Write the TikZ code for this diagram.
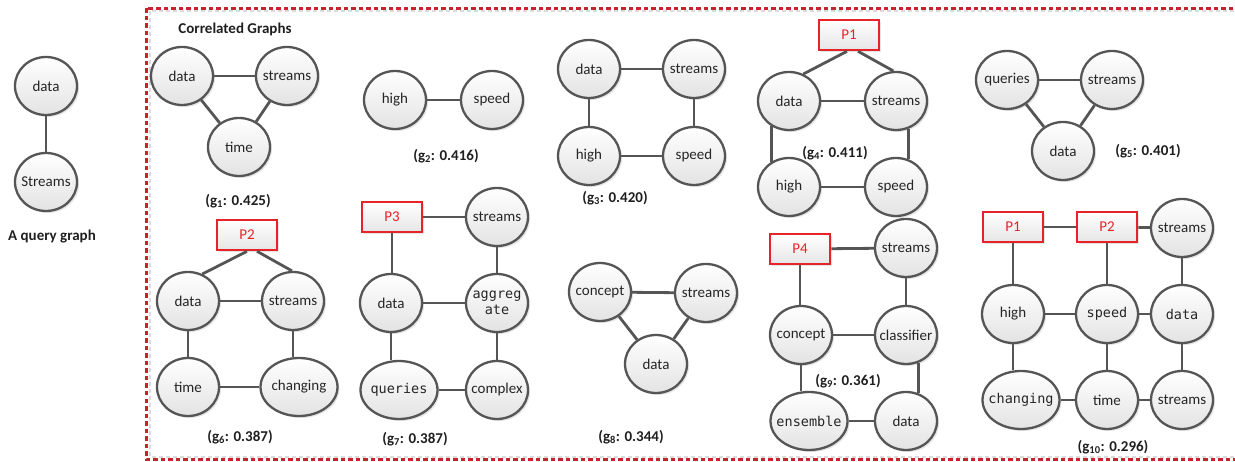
\documentclass[tikz,border=0pt]{standalone}
\usepackage{fontspec}
\setmainfont{Carlito}
\newfontfamily\monof{DejaVu Sans Mono}
\usetikzlibrary{shapes.geometric,shadows}
\definecolor{edgegray}{HTML}{555555}
\definecolor{pred}{HTML}{E8222B}
\definecolor{dred}{HTML}{C8232C}
\begin{document}
\begin{tikzpicture}[x=1pt,y=-1pt,
  cn/.style={ellipse, draw=edgegray, line width=2.3pt, top color=white, bottom color=black!11,
    minimum width=62pt, minimum height=58pt, inner xsep=-14pt, inner ysep=0pt,
    text=black!85, font=\fontsize{15}{16}\selectfont,
    drop shadow={shadow xshift=2pt,shadow yshift=-2pt,fill=black,opacity=0.10}},
  wide/.style={minimum width=77pt},
  mn/.style={font=\monof\fontsize{13.5}{16}\selectfont, align=center},
  pbox/.style={rectangle, draw=pred, line width=2.6pt, top color=white, bottom color=black!10,
    minimum width=60pt, minimum height=30pt, inner sep=0pt, text=pred,
    font=\fontsize{15}{16}\selectfont,
    drop shadow={shadow xshift=2pt,shadow yshift=-2pt,fill=black,opacity=0.10}},
  ed/.style={draw=edgegray, line width=2.8pt},
  lbl/.style={font=\bfseries\fontsize{15}{17}\selectfont, text=black!88, inner sep=0pt}]
\useasboundingbox (0,0) rectangle (1235,462);
% frame
\draw[black!14, line width=2pt, dash pattern=on 4pt off 3pt] (149.5,11.5) rectangle (1240,457);
\draw[dred, line width=2.2pt, dash pattern=on 4.5pt off 3pt] (146.5,8.5) rectangle (1240,459.5);
% query graph
\node[cn] (q1) at (46,86) {data};
\node[cn] (q2) at (46,182) {Streams};
\draw[ed] (q1) -- (q2);
\node[lbl] (ql) at (52,237) {A query graph};
\node[lbl] (cg) at (235,29) {Correlated Graphs};
% g1
\node[cn] (a1) at (182,76) {data};
\node[cn] (a2) at (287,76) {streams};
\node[cn] (a3) at (239,147) {time};
\draw[ed] (a1) -- (a2);
\draw[ed] (a1) -- (a3);
\draw[ed] (a2) -- (a3);
\node[lbl] (la) at (238,201) {(g\textsubscript{1}: 0.425)};
% g2
\node[cn] (b1) at (395,100) {high};
\node[cn] (b2) at (492,100) {speed};
\draw[ed] (b1) -- (b2);
\node[lbl] (lb) at (446,156) {(g\textsubscript{2}: 0.416)};
% g3
\node[cn] (c1) at (589,69) {data};
\node[cn] (c2) at (694,69) {streams};
\node[cn] (c3) at (589,156) {high};
\node[cn] (c4) at (694,156) {speed};
\draw[ed] (c1) -- (c2);
\draw[ed] (c1) -- (c3);
\draw[ed] (c2) -- (c4);
\draw[ed] (c3) -- (c4);
\node[lbl] (lc) at (615,198) {(g\textsubscript{3}: 0.420)};
% g4
\node[pbox] (d0) at (849,35) {P1};
\node[cn] (d1) at (789,101) {data};
\node[cn] (d2) at (896,101) {streams};
\node[cn] (d3) at (789,187) {high};
\node[cn] (d4) at (896,187) {speed};
\draw[ed] ([xshift=-2pt]d0.south) -- (d1.62);
\draw[ed] ([xshift=9pt]d0.south) -- (d2.95);
\draw[ed] (d1) -- (d2);
\draw[ed] (d1.235) -- (d3.125);
\draw[ed] (d2.295) -- (d4.65);
\draw[ed] (d3) -- (d4);
\node[lbl] (ld) at (835,153) {(g\textsubscript{4}: 0.411)};
% g5
\node[cn] (k1) at (1007,80) {queries};
\node[cn] (k2) at (1112,80) {streams};
\node[cn] (k3) at (1063,151) {data};
\draw[ed] (k1) -- (k2);
\draw[ed] (k1) -- (k3);
\draw[ed] (k2) -- (k3);
\node[lbl] (lk) at (1148,151) {(g\textsubscript{5}: 0.401)};
% g6
\node[pbox] (e0) at (247,235) {P2};
\node[cn] (e1) at (188,301) {data};
\node[cn] (e2) at (293,301) {streams};
\node[cn] (e3) at (188,387) {time};
\node[cn,wide] (e4) at (299,387) {changing};
\draw[ed] (e0.south) -- (e1.62);
\draw[ed] ([xshift=10pt]e0.south) -- (e2.92);
\draw[ed] (e1) -- (e2);
\draw[ed] (e1) -- (e3);
\draw[ed] (e2.south) -- (e2.south |- e4.north);
\draw[ed] (e3) -- (e4);
\node[lbl] (le) at (240,437) {(g\textsubscript{6}: 0.387)};
% g7
\node[pbox] (f0) at (392,217) {P3};
\node[cn] (f1) at (497,217) {streams};
\node[cn] (f2) at (391,303) {data};
\node[cn,mn] (f3) at (497,303) {aggreg\\ate};
\node[cn,wide,mn] (f4) at (399,390) {queries};
\node[cn] (f5) at (497,390) {complex};
\draw[ed] (f0) -- (f1);
\draw[ed] (f0.south) -- (f0.south |- f2.north);
\draw[ed] (f1) -- (f3);
\draw[ed] (f2) -- (f3);
\draw[ed] (f2.south) -- (f2.south |- f4.north);
\draw[ed] (f3) -- (f5);
\draw[ed] (f4) -- (f5);
\node[lbl] (lf) at (415,439) {(g\textsubscript{7}: 0.387)};
% g8
\node[cn] (h1) at (600,292) {concept};
\node[cn] (h2) at (706,293) {streams};
\node[cn] (h3) at (656,364) {data};
\draw[ed] (h1) -- (h2);
\draw[ed] (h1) -- (h3);
\draw[ed] (h2) -- (h3);
\node[lbl] (lh) at (631,437) {(g\textsubscript{8}: 0.344)};
% g9
\node[pbox] (i0) at (800,249) {P4};
\node[cn] (i1) at (906,248) {streams};
\node[cn] (i2) at (801,335) {concept};
\node[cn] (i3) at (906,335) {classifier};
\node[cn,wide,mn] (i4) at (809,421) {ensemble};
\node[cn] (i5) at (906,421) {data};
\draw[ed] (i0) -- (i1);
\draw[ed] (i0.south) -- (i0.south |- i2.north);
\draw[ed] (i1) -- (i3);
\draw[ed] (i2) -- (i3);
\draw[ed] (i2.south) -- (i2.south |- i4.north);
\draw[ed] (i3.295) -- (i5.65);
\draw[ed] (i4) -- (i5);
\node[lbl] (li) at (848,381) {(g\textsubscript{9}: 0.361)};
% g10
\node[pbox] (m0) at (1013,227) {P1};
\node[pbox] (m1) at (1107,227) {P2};
\node[cn] (m2) at (1182,228) {streams};
\node[cn] (m3) at (1013,314) {high};
\node[cn,mn] (m4) at (1107,314) {speed};
\node[cn,mn] (m5) at (1182,314) {data};
\node[cn,wide,mn] (m6) at (1021,400) {changing};
\node[cn] (m7) at (1107,400) {time};
\node[cn] (m8) at (1182,400) {streams};
\draw[ed] (m0) -- (m1);
\draw[ed] (m1) -- (m2);
\draw[ed] (m0) -- (m3);
\draw[ed] (m1) -- (m4);
\draw[ed] (m2) -- (m5);
\draw[ed] (m3) -- (m4);
\draw[ed] (m4) -- (m5);
\draw[ed] (m5) -- (m8);
\draw[ed] (m3.south) -- (m3.south |- m6.north);
\draw[ed] (m4) -- (m7);
\draw[ed] (m6) -- (m7);
\draw[ed] (m7) -- (m8);
\node[lbl] (lm) at (1113,447) {(g\textsubscript{10}: 0.296)};
\end{tikzpicture}
\end{document}
